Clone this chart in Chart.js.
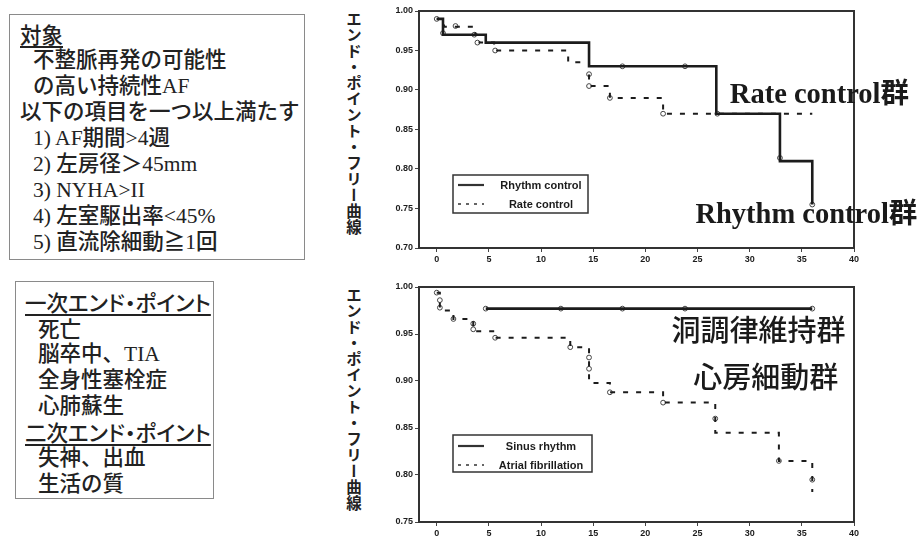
<!DOCTYPE html>
<html>
<head>
<meta charset="utf-8">
<script src="https://cdn.jsdelivr.net/npm/chart.js@4.4.1/dist/chart.umd.min.js"></script>
<style>
  body { margin: 0; width: 918px; height: 539px; position: relative; background: #fff; overflow: hidden; }
  .box { position: absolute; border: 1.5px solid #8a8a8a; box-sizing: border-box; color: #222;
         font-family: "Liberation Serif", "Noto Sans CJK JP", serif; font-size: 21.5px; line-height: 26px; font-weight: 500; }
  .box div { white-space: nowrap; }
  .u { text-decoration: underline; text-underline-offset: 3px; text-decoration-thickness: 1.5px; }
  .ind { padding-left: 13px; }
  .palt { font-feature-settings: "palt"; font-family: "Noto Sans CJK JP", sans-serif; }
  .vlabel { position: absolute; writing-mode: vertical-rl; text-orientation: upright; color: #222;
            font-family: "Noto Sans CJK JP", sans-serif; font-weight: bold; font-size: 15.5px; letter-spacing: 0.5px; }
  .wrap { position: absolute; }
</style>
</head>
<body>
<div class="box" style="left:9px; top:14px; width:296px; height:246px; padding:6px 0 0 10px;">
  <div class="u palt">対象</div>
  <div class="ind">不整脈再発の可能性</div>
  <div class="ind">の高い持続性AF</div>
  <div>以下の項目を一つ以上満たす</div>
  <div class="ind">1) AF期間&gt;4週</div>
  <div class="ind">2) 左房径＞45mm</div>
  <div class="ind">3) NYHA&gt;II</div>
  <div class="ind">4) 左室駆出率&lt;45%</div>
  <div class="ind">5) 直流除細動≧1回</div>
</div>
<div class="box" style="left:15px; top:281px; width:199px; height:218px; padding:7px 0 0 9px;">
  <div class="u palt">一次エンド・ポイント</div>
  <div class="ind palt">死亡</div>
  <div class="ind">脳卒中、TIA</div>
  <div class="ind">全身性塞栓症</div>
  <div class="ind">心肺蘇生</div>
  <div class="u palt">二次エンド・ポイント</div>
  <div class="ind">失神、出血</div>
  <div class="ind">生活の質</div>
</div>
<div class="vlabel" style="left:343px; top:11px;">エンド・ポイント・フリー曲線</div>
<div class="vlabel" style="left:343px; top:287px;">エンド・ポイント・フリー曲線</div>
<div class="wrap" style="left:360px; top:0px;"><canvas id="topChart" width="558" height="270"></canvas></div>
<div class="wrap" style="left:360px; top:270px;"><canvas id="bottomChart" width="558" height="269"></canvas></div>
<script>
// time axis (months)
const xTicks = [0, 5, 10, 15, 20, 25, 30, 35, 40];
const yTicksTop = [0.70, 0.75, 0.80, 0.85, 0.90, 0.95, 1.00];
const yTicksBottom = [0.75, 0.80, 0.85, 0.90, 0.95, 1.00];

// top: rhythm vs rate control
const topRhythmX = [0, 0.6, 4.7, 14.6, 26.8, 32.9, 36];
const topRhythmY = [0.99, 0.97, 0.96, 0.93, 0.87, 0.81, 0.755];
const topRhythmCensorX = [0.6, 3.6, 17.8, 23.8, 26.9, 32.9, 36];
const topRhythmCensorY = [0.972, 0.97, 0.93, 0.93, 0.87, 0.814, 0.755];
const topRateX = [0, 0.7, 3.7, 4.1, 5.5, 12.6, 14.6, 16.6, 21.7, 36];
const topRateY = [0.99, 0.98, 0.97, 0.96, 0.95, 0.935, 0.905, 0.89, 0.87, 0.87];
const topRateCensorX = [0, 1.8, 3.9, 5.6, 14.6, 14.6, 16.6, 21.7];
const topRateCensorY = [0.99, 0.981, 0.96, 0.95, 0.92, 0.905, 0.89, 0.87];

// bottom: sinus rhythm vs atrial fibrillation
const sinusX = [4.7, 36];
const sinusY = [0.977, 0.977];
const sinusCensorX = [4.7, 11.9, 17.8, 23.8, 36];
const sinusCensorY = [0.977, 0.977, 0.977, 0.977, 0.977];
const afX = [0, 0.3, 1.6, 3.5, 5.6, 12.8, 14.6, 16.6, 21.7, 26.7, 32.8, 36];
const afY = [0.994, 0.975, 0.966, 0.953, 0.946, 0.936, 0.898, 0.888, 0.877, 0.845, 0.815, 0.782];
const afCensorX = [0, 0.3, 0.3, 1.6, 3.5, 3.5, 5.6, 12.8, 14.6, 14.6, 16.6, 21.7, 26.7, 32.8, 36];
const afCensorY = [0.994, 0.986, 0.978, 0.966, 0.961, 0.955, 0.946, 0.936, 0.925, 0.913, 0.888, 0.877, 0.86, 0.815, 0.795];

const ink = '#1c1c1c';
const toPts = (xs, ys) => xs.map((x, i) => ({ x: x, y: ys[i] }));

function curve(label, xs, ys, dashed) {
    return {
        label: label,
        data: toPts(xs, ys),
        stepped: true,
        borderColor: ink,
        borderWidth: dashed ? 2 : 2.6,
        borderDash: dashed ? [5, 8] : [],
        pointRadius: 0,
        fill: false
    };
}

function censor(xs, ys) {
    return {
        label: '',
        data: toPts(xs, ys),
        showLine: false,
        pointRadius: 2.4,
        pointBackgroundColor: '#fff',
        pointBorderColor: '#444',
        pointBorderWidth: 1
    };
}

// frame around plot + boxed legend + group labels
const decor = {
    id: 'decor',
    afterDraw(chart, args, opts) {
        const ctx = chart.ctx;
        const a = chart.chartArea;
        const sx = chart.scales.x, sy = chart.scales.y;
        ctx.save();
        ctx.strokeStyle = '#333';
        ctx.lineWidth = 2;
        ctx.strokeRect(a.left, a.top, a.right - a.left, a.bottom - a.top);

        // legend
        const lg = opts.legend;
        const bx = a.left + lg.dx, by = a.top + lg.dy;
        ctx.lineWidth = 1.5;
        ctx.strokeStyle = '#333';
        ctx.strokeRect(bx, by, lg.w, lg.h);
        ctx.font = 'bold 11px Arial, "Liberation Sans", sans-serif';
        ctx.fillStyle = ink;
        ctx.textAlign = 'center';
        ctx.textBaseline = 'middle';
        lg.items.forEach((it, i) => {
            const yy = by + lg.rows[i];
            ctx.beginPath();
            ctx.setLineDash(it.dashed ? [3, 5] : []);
            ctx.lineWidth = it.dashed ? 1.5 : 2.2;
            ctx.moveTo(bx + 5, yy);
            ctx.lineTo(bx + 31, yy);
            ctx.stroke();
            ctx.setLineDash([]);
            ctx.fillText(it.text, bx + 88, yy + 1);
        });

        // group labels, anchored in data units
        ctx.textAlign = 'left';
        ctx.textBaseline = 'alphabetic';
        opts.notes.forEach(n => {
            ctx.font = n.font;
            ctx.fillStyle = '#1a1a1a';
            ctx.fillText(n.text, sx.getPixelForValue(n.x), sy.getPixelForValue(n.y));
        });
        ctx.restore();
    }
};

function makeChart(id, datasets, yTicks, yMin, pad, xh, decorOpts) {
    const tickFont = { family: 'Arial, "Liberation Sans", sans-serif', size: 9, weight: 'bold' };
    return new Chart(document.getElementById(id), {
        type: 'line',
        data: { datasets: datasets },
        options: {
            responsive: false,
            animation: false,
            layout: { padding: { top: pad, right: 64, left: 0, bottom: 0 } },
            plugins: { legend: { display: false }, tooltip: { enabled: false }, decor: decorOpts },
            scales: {
                x: {
                    type: 'linear', min: -1.7, max: 40,
                    afterFit: s => { s.height = xh; },
                    afterBuildTicks: s => { s.ticks = xTicks.map(v => ({ value: v })); },
                    grid: { drawOnChartArea: false, drawTicks: true, tickLength: 4, color: '#444' },
                    border: { display: false },
                    ticks: { font: tickFont, color: ink, padding: 2, maxRotation: 0 }
                },
                y: {
                    type: 'linear', min: yMin, max: 1.0,
                    afterFit: s => { s.width = 59; },
                    afterBuildTicks: s => { s.ticks = yTicks.map(v => ({ value: v })); },
                    grid: { drawOnChartArea: false, drawTicks: true, tickLength: 4, color: '#444' },
                    border: { display: false },
                    ticks: { font: tickFont, color: ink, padding: 2, callback: v => v.toFixed(2) }
                }
            }
        },
        plugins: [decor]
    });
}

makeChart('topChart', [
    curve('Rhythm control', topRhythmX, topRhythmY, false),
    curve('Rate control', topRateX, topRateY, true),
    censor(topRhythmCensorX, topRhythmCensorY),
    censor(topRateCensorX, topRateCensorY)
], yTicksTop, 0.70, 11, 22, {
    legend: { dx: 34, dy: 164, w: 135, h: 38, rows: [10, 29],
              items: [{ text: 'Rhythm control', dashed: false }, { text: 'Rate control', dashed: true }] },
    notes: [
        { text: 'Rate control群', x: 28.1, y: 0.8835, font: 'bold 28.5px "Liberation Serif", "Noto Sans CJK JP", serif' },
        { text: 'Rhythm control群', x: 24.8, y: 0.732, font: 'bold 28.5px "Liberation Serif", "Noto Sans CJK JP", serif' }
    ]
});

makeChart('bottomChart', [
    curve('Sinus rhythm', sinusX, sinusY, false),
    curve('Atrial fibrillation', afX, afY, true),
    censor(sinusCensorX, sinusCensorY),
    censor(afCensorX, afCensorY)
], yTicksBottom, 0.75, 17, 17, {
    legend: { dx: 34, dy: 148, w: 139, h: 37, rows: [11, 30],
              items: [{ text: 'Sinus rhythm', dashed: false }, { text: 'Atrial fibrillation', dashed: true }] },
    notes: [
        { text: '洞調律維持群', x: 22.5, y: 0.9425, font: '500 29px "Noto Sans CJK JP", sans-serif' },
        { text: '心房細動群', x: 24.6, y: 0.8925, font: '500 29px "Noto Sans CJK JP", sans-serif' }
    ]
});
</script>
</body>
</html>
